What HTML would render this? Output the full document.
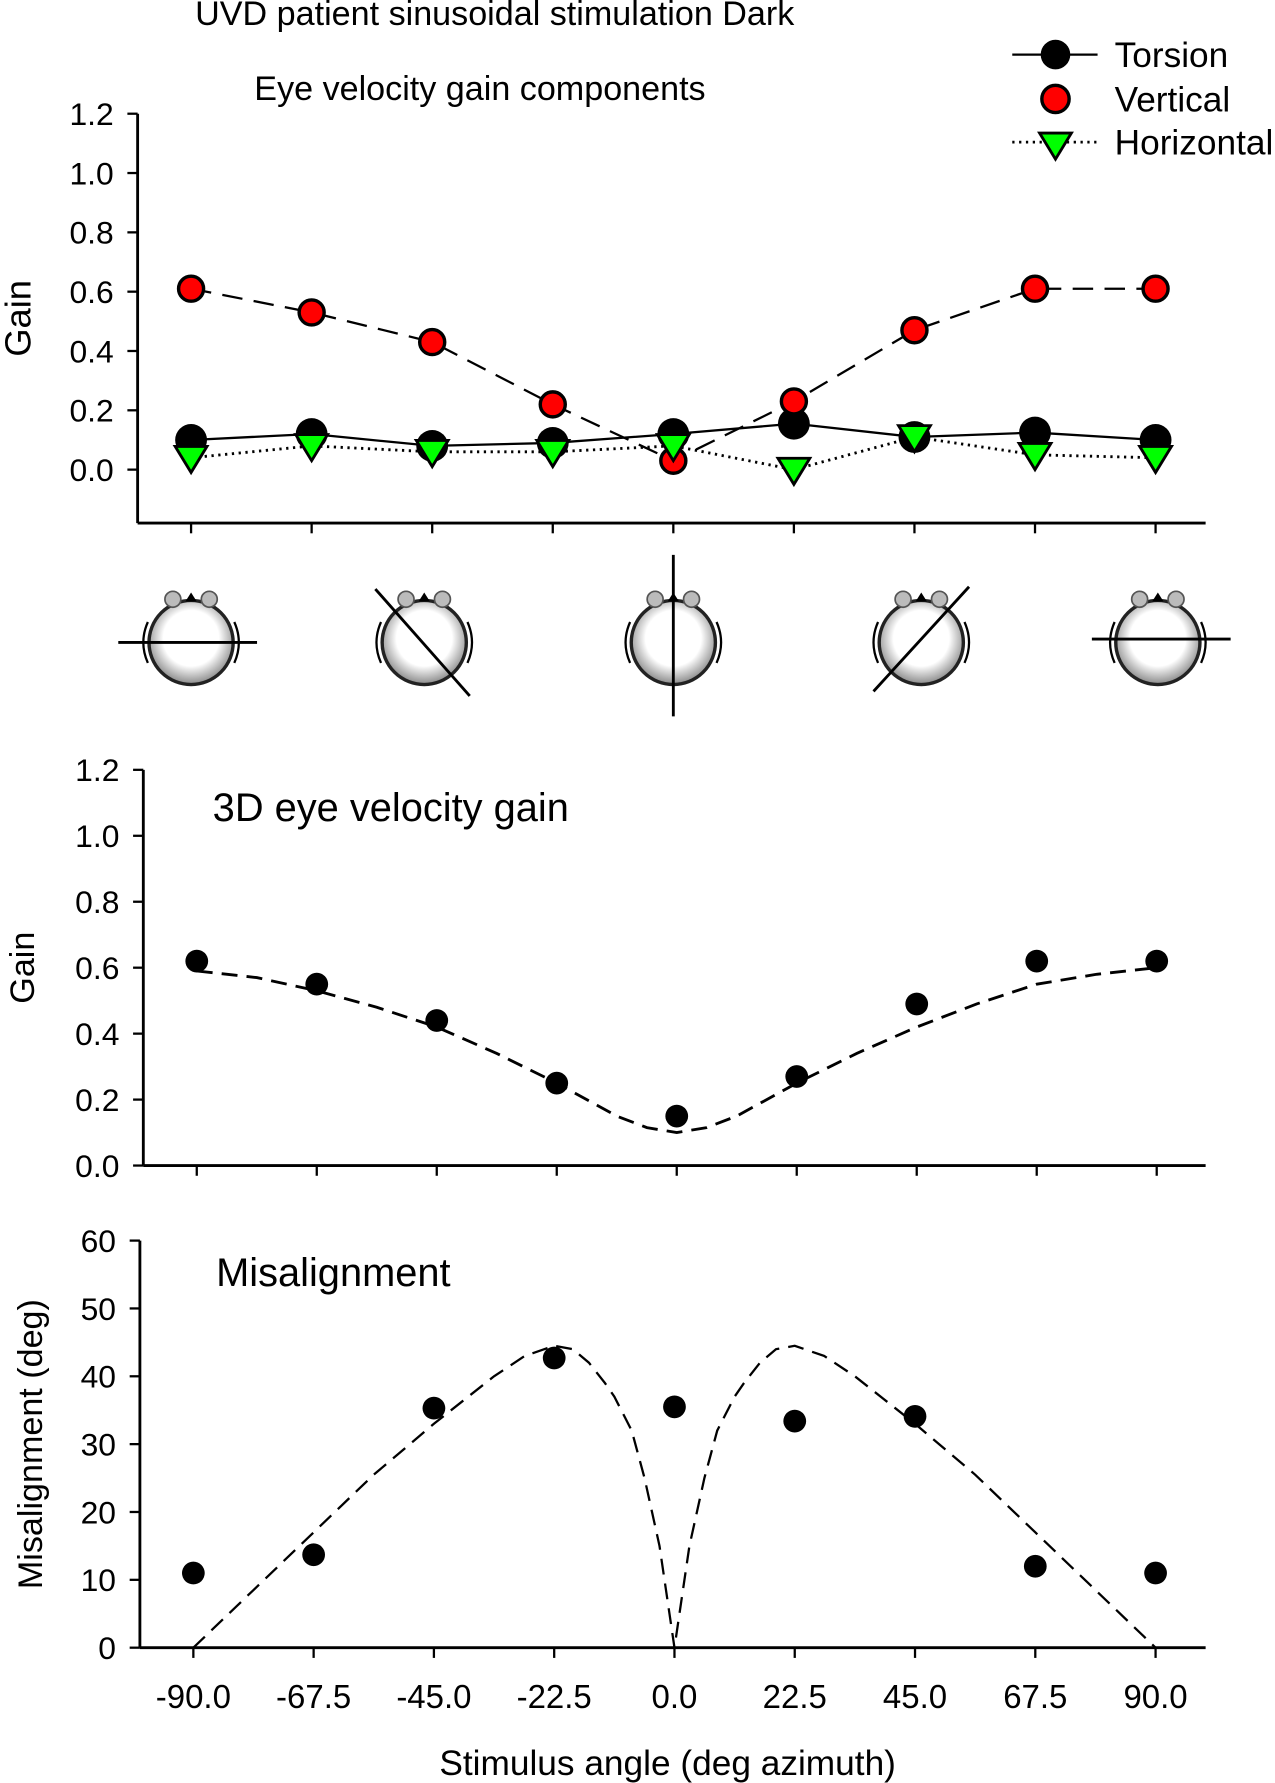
<!DOCTYPE html>
<html><head><meta charset="utf-8"><style>
html,body{margin:0;padding:0;background:#fff;}
svg{display:block;font-family:"Liberation Sans",Arial,sans-serif;}
</style></head><body>
<svg id="fig" width="1275" height="1783" viewBox="0 0 1121 1568" preserveAspectRatio="none">
<defs>
<radialGradient id="headg" cx="50%" cy="45%" r="55%"><stop offset="0.6" stop-color="#fff"/><stop offset="1" stop-color="#888"/></radialGradient>
</defs>
<text x="435" y="22" font-size="30" text-anchor="middle">UVD patient sinusoidal stimulation Dark</text>
<text x="422" y="88" font-size="30" text-anchor="middle">Eye velocity gain components</text>
<g id="top"></g>
<g id="heads"></g>
<g id="mid"></g>
<g id="bot"></g>
<g>
<g><line x1="890" y1="48" x2="965" y2="48" stroke="#000" stroke-width="2"/><circle cx="928" cy="48" r="13" fill="#000"/><text x="980" y="59" font-size="31">Torsion</text></g>
<g><circle cx="928" cy="87" r="12" fill="#f00" stroke="#000" stroke-width="3"/><text x="980" y="98" font-size="31">Vertical</text></g>
<g><line x1="890" y1="125" x2="965" y2="125" stroke="#000" stroke-width="2.5" stroke-dasharray="2,4"/><path d="M914,117 L942,117 L928,140 Z" fill="#0f0" stroke="#000" stroke-width="2.5"/><text x="980" y="136" font-size="31">Horizontal</text></g>
</g>
<text x="587" y="1561" font-size="31" text-anchor="middle">Stimulus angle (deg azimuth)</text>
</svg>
<script>
const angles=[-90,-67.5,-45,-22.5,0,22.5,45,67.5,90];
const torsion=[0.10,0.12,0.08,0.09,0.12,0.155,0.11,0.125,0.10];
const vertical=[0.61,0.53,0.43,0.22,0.03,0.23,0.47,0.61,0.61];
const horizontal=[0.04,0.08,0.06,0.06,0.08,0.0,0.11,0.05,0.04];
const gain3d=[0.62,0.55,0.44,0.25,0.15,0.27,0.49,0.62,0.62];
const gainFitX=[-90,-78.75,-67.5,-56.25,-45,-33.75,-22.5,-11.25,-5.6,0,5.6,11.25,22.5,33.75,45,56.25,67.5,78.75,90];
const gainFitY=[0.59,0.57,0.53,0.48,0.42,0.34,0.25,0.15,0.115,0.10,0.115,0.15,0.25,0.34,0.42,0.49,0.55,0.58,0.60];
const misalign=[11,13.7,35.3,42.7,35.5,33.4,34.1,12,11];
const misFitX=[-90,-78.75,-67.5,-56.25,-45,-33.75,-28,-22.5,-19,-16,-13,-11.25,-8,-5.6,-2.8,0,2.8,5.6,8,11.25,13,16,19,22.5,28,33.75,45,56.25,67.5,78.75,90];
const misFitY=[0,8.5,17,25.5,33,40,43,44.5,44,42,39,37,32,25,15,0,15,25,32,37,39,42,44,44.5,43,40,33,25.5,17,8.5,0];
const gainTicks=["0.0","0.2","0.4","0.6","0.8","1.0","1.2"];
const misTicks=["0","10","20","30","40","50","60"];
const xTicks=["-90.0","-67.5","-45.0","-22.5","0.0","22.5","45.0","67.5","90.0"];

const NS="http://www.w3.org/2000/svg";
function mk(p,t,a){const e=document.createElementNS(NS,t);for(const k in a)e.setAttribute(k,a[k]);p.appendChild(e);return e;}
function lin(d0,d1,r0,r1){return v=>r0+(v-d0)*(r1-r0)/(d1-d0);}
function axes(g,ax,yTop,yBot,xEnd,xs,ys,ticks,tickVals,yTitle,yTitleX,yTitleSize,showX){
  let e=mk(g,'line',{x1:ax,y1:yTop,x2:ax,y2:yBot,stroke:'#000','stroke-width':2.5});
  
  e=mk(g,'line',{x1:ax,y1:yBot,x2:xEnd,y2:yBot,stroke:'#000','stroke-width':2.5});
  
  ticks.forEach((t,i)=>{const y=ys(tickVals[i]);
    mk(g,'line',{x1:ax-9,y1:y,x2:ax,y2:y,stroke:'#000','stroke-width':2});
    const tx=mk(g,'text',{x:ax-21,y:y+10,'font-size':28,'text-anchor':'end'});tx.textContent=t;
    });
  angles.forEach((a,i)=>{const x=xs(a);mk(g,'line',{x1:x,y1:yBot,x2:x,y2:yBot+9,stroke:'#000','stroke-width':2});
    if(showX){const tx=mk(g,'text',{x:x,y:yBot+53,'font-size':29,'text-anchor':'middle'});tx.textContent=xTicks[i];
    }});
  const tt=mk(g,'text',{x:yTitleX,y:(yTop+yBot)/2,'font-size':yTitleSize,'text-anchor':'middle',transform:`rotate(-90 ${yTitleX} ${(yTop+yBot)/2})`});
  tt.textContent=yTitle;
}
function path(g,xsArr,ysArr,xs,ys,dash,w,name){
  const d=xsArr.map((x,i)=>(i?'L':'M')+xs(x)+','+ys(ysArr[i])).join(' ');
  const p=mk(g,'path',{d:d,fill:'none',stroke:'#000','stroke-width':w,'stroke-dasharray':dash});
  
}
// top
{const g=document.getElementById('top');
 const xs=lin(-90,90,168,1016), ys=lin(0,1.2,413,100);
 axes(g,121,100,460,1060,xs,ys,gainTicks,[0,0.2,0.4,0.6,0.8,1.0,1.2],'Gain',27,32,false);
 path(g,angles,vertical,xs,ys,'18,10',2,'vertical-line');
 path(g,angles,torsion,xs,ys,'none',2,'torsion-line');
 path(g,angles,horizontal,xs,ys,'2,4',2.5,'horizontal-line');
 angles.forEach((a,i)=>{const c=mk(g,'circle',{cx:xs(a),cy:ys(torsion[i]),r:14,fill:'#000'});
  });
 angles.forEach((a,i)=>{const c=mk(g,'circle',{cx:xs(a),cy:ys(vertical[i]),r:11,fill:'#f00',stroke:'#000','stroke-width':3});
  });
 angles.forEach((a,i)=>{const x=xs(a),y=ys(horizontal[i]);const p=mk(g,'path',{d:`M${x-14},${y-10} L${x+14},${y-10} L${x},${y+13} Z`,fill:'#0f0',stroke:'#000','stroke-width':2.5});
  });
}
// heads
{const g=document.getElementById('heads');
 const hx=[168,373,592,810,1018];
 const lines=[[104,565,226,565],[330,518,413,612],[592,488,592,630],[768,608,852,516],[960,562,1082,562]];
 hx.forEach((x,i)=>{const y=565;
  mk(g,'path',{d:`M${x-38},${y-18} q-8,18 0,36 M${x+38},${y-18} q8,18 0,36`,fill:'none',stroke:'#000','stroke-width':2});
  const c=mk(g,'circle',{cx:x,cy:y,r:37,fill:'url(#headg)',stroke:'#222','stroke-width':3});
  
  mk(g,'path',{d:`M${x-5},${y-36} L${x+5},${y-36} L${x},${y-44} Z`,fill:'#000'});
  mk(g,'circle',{cx:x-16,cy:y-38,r:7,fill:'#bbb',stroke:'#555','stroke-width':1.5});
  mk(g,'circle',{cx:x+16,cy:y-38,r:7,fill:'#bbb',stroke:'#555','stroke-width':1.5});
  const l=lines[i];const ln=mk(g,'line',{x1:l[0],y1:l[1],x2:l[2],y2:l[3],stroke:'#000','stroke-width':2.5});
  });
}
// middle
{const g=document.getElementById('mid');
 const xs=lin(-90,90,173,1017), ys=lin(0,1.2,1025,677);
 axes(g,126,677,1025,1060,xs,ys,gainTicks,[0,0.2,0.4,0.6,0.8,1.0,1.2],'Gain',30,30,false);
 const t=mk(g,'text',{x:187,y:722,'font-size':35});t.textContent='3D eye velocity gain';
 
 path(g,gainFitX,gainFitY,xs,ys,'14,8',2.5,'gain-fit-curve');
 angles.forEach((a,i)=>{const c=mk(g,'circle',{cx:xs(a),cy:ys(gain3d[i]),r:10,fill:'#000'});
  });
}
// bottom
{const g=document.getElementById('bot');
 const xs=lin(-90,90,170,1016), ys=lin(0,60,1449,1091);
 axes(g,123,1091,1449,1060,xs,ys,misTicks,[0,10,20,30,40,50,60],'Misalignment (deg)',37,30,true);
 const t=mk(g,'text',{x:190,y:1131,'font-size':35});t.textContent='Misalignment';
 
 path(g,misFitX,misFitY,xs,ys,'14,8',2,'misalignment-fit-curve');
 angles.forEach((a,i)=>{const c=mk(g,'circle',{cx:xs(a),cy:ys(misalign[i]),r:10,fill:'#000'});
  });
}
</script>
</body></html>
